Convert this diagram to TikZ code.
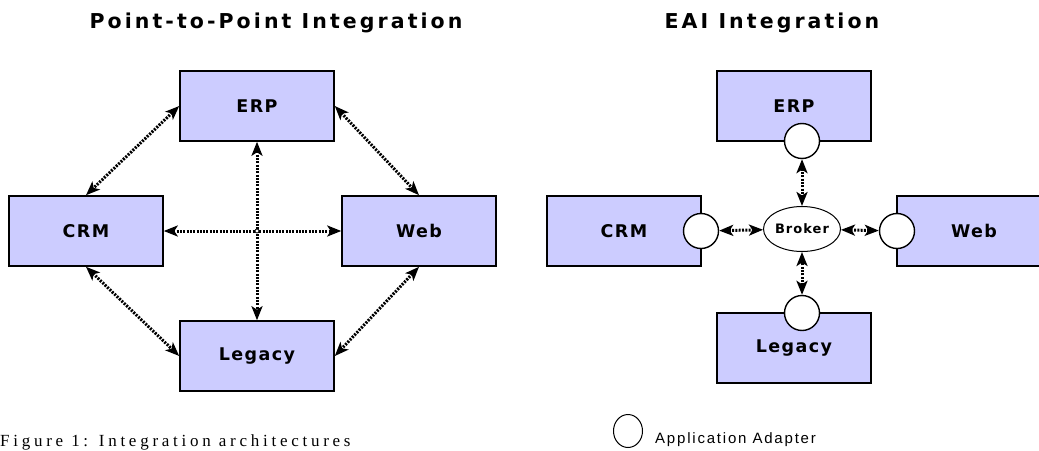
\documentclass[tikz,border=0pt]{standalone}
\usepackage{fontspec}
\setmainfont{Liberation Serif}
\setsansfont{Liberation Sans}
\newfontfamily\boxfont{DejaVu Sans}[LetterSpace=8]
\newfontfamily\headfont{DejaVu Sans}[LetterSpace=15]
\newfontfamily\notefont{Liberation Sans}[LetterSpace=12]
\newfontfamily\capfont{Liberation Serif}[LetterSpace=22]
\usetikzlibrary{arrows.meta,shapes.geometric,positioning}
\definecolor{appfill}{RGB}{204,204,255}

\begin{document}
\begin{tikzpicture}[x=1pt,y=-1pt,
    app/.style={draw,line width=1.6pt,fill=appfill,minimum width=154pt,
      minimum height=70pt,inner sep=0pt,
      font=\boxfont\bfseries\fontsize{17.5}{20}\selectfont},
    adapter/.style={draw,line width=1.4pt,fill=white,circle,
      minimum size=35pt,inner sep=0pt},
    link/.style={line width=3pt,dash pattern=on 2pt off 1.3pt,
      {Stealth[length=14pt,width=11pt,inset=3.5pt]}-{Stealth[length=14pt,width=11pt,inset=3.5pt]}},
    heading/.style={font=\headfont\bfseries\fontsize{20.5}{24}\selectfont,inner sep=0pt,anchor=base}]
  \useasboundingbox (0,0) rectangle (1039,450);

  % point-to-point
  \node[heading] (titleL) at (276,28) {Point-to-Point Integration};
  \node[app] (erpL) at (257,106) {ERP};
  \node[app] (crmL) at (86,231) {CRM};
  \node[app] (webL) at (419,231) {Web};
  \node[app] (legacyL) at (257,356) {Legacy};
  \draw[link] (erpL.west) -- (crmL.north);
  \draw[link] (erpL.east) -- (webL.north);
  \draw[link] (crmL.south) -- (legacyL.west);
  \draw[link] (webL.south) -- (legacyL.east);
  \draw[link] (crmL.east) -- (webL.west);
  \draw[link] (erpL.south) -- (legacyL.north);
  \node[draw,circle,fill=white,line width=0.8pt,minimum size=4pt,inner sep=0pt]
    (cross) at (erpL.south |- crmL.east) {};

  % EAI
  \node[heading] (titleR) at (772,28) {EAI Integration};
  \node[app] (erpR) at (794,106) {ERP};
  \node[app] (crmR) at (624,231) {CRM};
  \node[app] (webR) at (974,231) {Web};
  \node[app] (legacyR) at (794,348) {Legacy};
  \node[adapter] (erpA) at (802,141) {};
  \node[adapter] (crmA) at (701,231) {};
  \node[adapter] (webA) at (897,231) {};
  \node[adapter] (legacyA) at (802,313) {};
  \node[draw,ellipse,line width=1pt,minimum width=77pt,minimum height=45pt,
    inner sep=0pt,font=\boxfont\bfseries\fontsize{13}{16}\selectfont]
    (broker) at (802,229) {Broker};
  \draw[link] (erpA) -- (broker);
  \draw[link] (crmA) -- (broker);
  \draw[link] (webA) -- (broker);
  \draw[link] (legacyA) -- (broker);

  % legend and caption
  \node[draw,ellipse,line width=1pt,minimum width=29pt,minimum height=33pt,inner sep=0pt]
    (legendA) at (628,431) {};
  \node[anchor=base west,inner sep=0pt,font=\notefont\fontsize{15}{17}\selectfont]
    (legendtxt) at (655,443) {Application Adapter};
  \node[anchor=base west,inner sep=0pt,font=\capfont\fontsize{17}{19}\selectfont]
    (caption) at (0,446) {Figure 1: Integration architectures};
\end{tikzpicture}
\end{document}
